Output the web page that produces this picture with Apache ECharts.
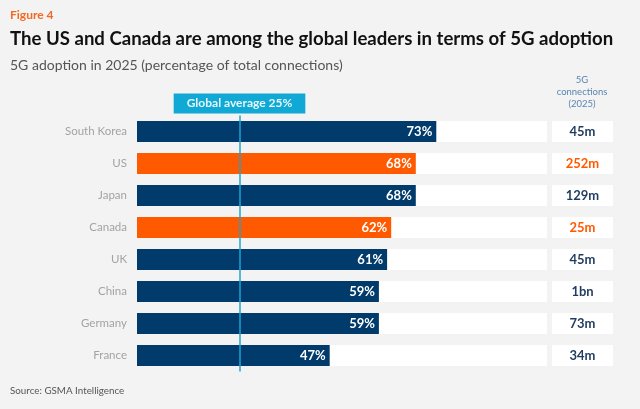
<!DOCTYPE html>
<html>
<head>
<meta charset="utf-8">
<script src="https://cdn.jsdelivr.net/npm/echarts@6/dist/echarts.min.js"></script>
<style>html,body{margin:0;padding:0;background:#f3f3f3;}#c{width:640px;height:409px;}</style>
</head>
<body>
<div id="c"></div>
<script>
const categories = ['South Korea', 'US', 'Japan', 'Canada', 'UK', 'China', 'Germany', 'France'];
const adoption = [73, 68, 68, 62, 61, 59, 59, 47];
const connections = ['45m', '252m', '129m', '25m', '45m', '1bn', '73m', '34m'];
const highlighted = ['US', 'Canada'];
const globalAverage = 25;

const NAVY = '#003b6b', ORANGE = '#ff5a00', FONT = 'Lato';
const chart = echarts.init(document.getElementById('c'), null, {renderer: 'canvas'});
chart.setOption({
  backgroundColor: '#f3f3f3',
  animation: false,
  textStyle: {fontFamily: FONT},
  title: [
    {text: 'Figure 4', left: 5, top: 4, textStyle: {fontFamily: FONT, fontSize: 12, fontWeight: 'bold', color: '#f26a21'}},
    {text: 'The US and Canada are among the global leaders in terms of 5G adoption', left: 5, top: 24, textStyle: {fontFamily: FONT, fontSize: 18.6, fontWeight: 'bold', color: '#111'}},
    {text: '5G adoption in 2025 (percentage of total connections)', left: 5, top: 53, textStyle: {fontFamily: FONT, fontSize: 14, fontWeight: 'normal', color: '#555'}},
    {text: 'Source: GSMA Intelligence', left: 5, top: 381, textStyle: {fontFamily: FONT, fontSize: 9.8, fontWeight: 'normal', color: '#555'}}
  ],
  graphic: [{
    type: 'text', left: 582 - 30, top: 74,
    style: {text: '5G\nconnections\n(2025)', x: 0, fill: '#5a84b0', font: '9.5px Lato', lineHeight: 12, textAlign: 'center', width: 60}
  }],
  grid: {left: 137, right: 93, top: 115.5, height: 256},
  xAxis: {type: 'value', min: 0, max: 100, show: false},
  yAxis: [
    {type: 'category', data: categories, inverse: true, axisLine: {show: false}, axisTick: {show: false},
     axisLabel: {color: '#a3a3a3', fontSize: 11.5, margin: 10, fontFamily: FONT}},
    {type: 'category', data: categories, inverse: true, position: 'right', axisLine: {show: false}, axisTick: {show: false},
     axisLabel: {margin: 5, align: 'left', fontFamily: FONT,
       formatter: (v, i) => '{' + (highlighted.includes(v) ? 'o' : 'n') + '|' + connections[i] + '}',
       rich: {
         n: {width: 61, height: 21, align: 'center', backgroundColor: '#fff', color: '#1f3b5f', fontSize: 13, fontWeight: 'bold', fontFamily: FONT},
         o: {width: 61, height: 21, align: 'center', backgroundColor: '#fff', color: ORANGE, fontSize: 13, fontWeight: 'bold', fontFamily: FONT}
       }}}
  ],
  series: [{
    type: 'bar', barWidth: 21,
    data: adoption.map((v, i) => ({value: v, itemStyle: {color: highlighted.includes(categories[i]) ? ORANGE : NAVY}})),
    showBackground: true, backgroundStyle: {color: '#ffffff'},
    label: {show: true, position: 'insideRight', formatter: '{c}%', color: '#fff', fontSize: 13, fontWeight: 'bold', distance: 4, fontFamily: FONT},
    markLine: {
      silent: true, symbol: 'none',
      lineStyle: {color: '#1ea3cf', width: 1.5, type: 'solid'},
      label: {show: true, position: 'start', formatter: 'Global average ' + globalAverage + '%', color: '#e6f6fb',
        backgroundColor: '#10a8d5', fontSize: 12, fontWeight: 'bold', padding: [4, 13, 4, 13], distance: 2, fontFamily: FONT},
      data: [{xAxis: globalAverage}]
    }
  }]
});
</script>
</body>
</html>
